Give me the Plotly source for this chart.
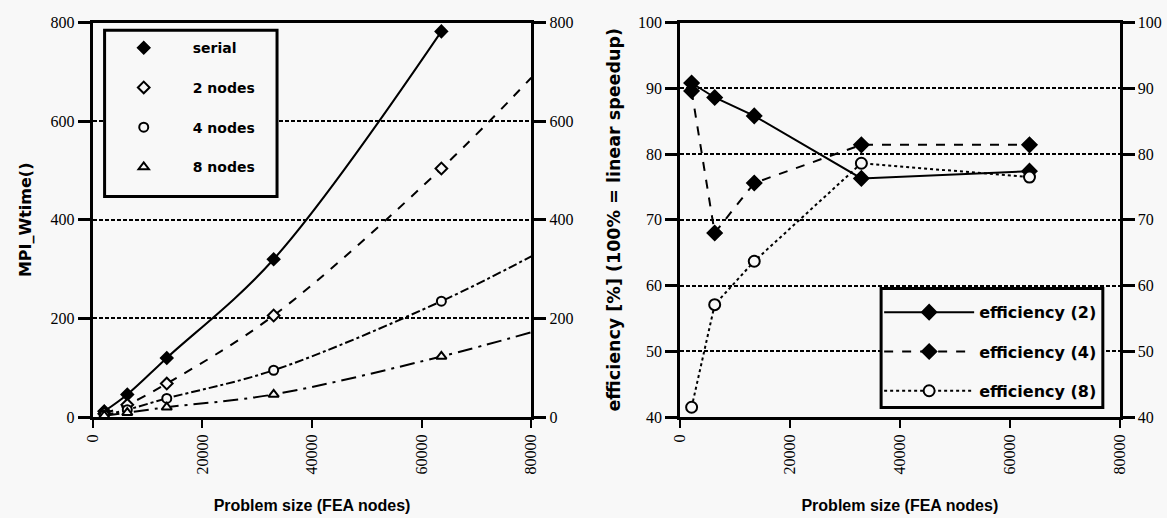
import plotly.graph_objects as go

# ---------------- data ----------------
problem_size = [2100, 6300, 13500, 33000, 63600]
t_serial = [12, 46, 120, 320, 782]
t_2nodes = [7, 25, 68, 206, 504]
t_4nodes = [4, 15, 38, 95, 235]
t_8nodes = [3, 9, 20, 46, 123]
fit_end_x = 80000
fit_end_2 = 688
fit_end_4 = 326
fit_end_8 = 172

eff_2 = [90.8, 88.6, 85.8, 76.3, 77.4]
eff_4 = [89.6, 68.0, 75.6, 81.4, 81.4]
eff_8 = [41.5, 57.1, 63.7, 78.6, 76.5]

x_ticks = [0, 20000, 40000, 60000, 80000]
left_y_ticks = [0, 200, 400, 600, 800]
right_y_ticks = [40, 50, 60, 70, 80, 90, 100]

W, H = 1167, 518
BG = "#f8f8f8"
SERIF = "Liberation Serif"
SANS = "Liberation Sans"
WIDE = "DejaVu Sans"

fig = go.Figure()

# ---------- left plot: fitted curves (lines only) ----------
curve_specs = [
    (problem_size, t_serial, "solid"),
    (problem_size + [fit_end_x], t_2nodes + [fit_end_2], "dash"),
    (problem_size + [fit_end_x], t_4nodes + [fit_end_4], "dashdot"),
    (problem_size + [fit_end_x], t_8nodes + [fit_end_8], "longdashdot"),
]
for xs, ys, dash in curve_specs:
    fig.add_trace(go.Scatter(x=xs, y=ys, mode="lines",
                             line=dict(color="black", width=2, dash=dash, shape="spline", smoothing=1.0),
                             showlegend=False, hoverinfo="skip", xaxis="x", yaxis="y"))

marker_specs = [
    ("serial", t_serial, "diamond", "black"),
    ("2 nodes", t_2nodes, "diamond", BG),
    ("4 nodes", t_4nodes, "circle", BG),
    ("8 nodes", t_8nodes, "triangle-up", BG),
]
for name, ys, sym, fill in marker_specs:
    fig.add_trace(go.Scatter(x=problem_size, y=ys, mode="markers", name=name,
                             marker=dict(symbol=sym, size=9, color=fill,
                                         line=dict(color="black", width=2)),
                             legendgroup=name, legend="legend",
                             xaxis="x", yaxis="y"))

# invisible trace so the mirrored right-hand axis of the left plot is drawn
fig.add_trace(go.Scatter(x=problem_size, y=t_serial, mode="lines", opacity=0,
                         line=dict(width=0), showlegend=False, hoverinfo="skip",
                         xaxis="x", yaxis="y2"))

# ---------- right plot ----------
eff_specs = [
    ("efficiency (2)", eff_2, "solid", "diamond", "black"),
    ("efficiency (4)", eff_4, "dash", "diamond", "black"),
    ("efficiency (8)", eff_8, "dot", "circle", BG),
]
for name, ys, dash, sym, fill in eff_specs:
    fig.add_trace(go.Scatter(x=problem_size, y=ys, mode="lines+markers", name=name,
                             line=dict(color="black", width=2, dash=dash),
                             marker=dict(symbol=sym, size=11, color=fill,
                                         line=dict(color="black", width=2)),
                             legendgroup=name, legend="legend2",
                             xaxis="x2", yaxis="y3"))

fig.add_trace(go.Scatter(x=problem_size, y=eff_2, mode="lines", opacity=0,
                         line=dict(width=0), showlegend=False, hoverinfo="skip",
                         xaxis="x2", yaxis="y4"))

tickfont = dict(family=SERIF, size=16, color="black")

xdomL = [85 / W, 530 / W]
xdomR = [681 / W, 1127 / W]
ydom = [1 - 423 / H, 1 - 15 / H]


def xaxis(domain, anchor):
    return dict(domain=domain, anchor=anchor, range=[0, 80000], tickvals=x_ticks,
                ticktext=[str(v) for v in x_ticks], tickangle=-90, ticks="outside",
                ticklen=8, tickwidth=2, tickcolor="black", showline=True, linewidth=3,
                linecolor="black", mirror=True, showgrid=False, zeroline=False,
                tickfont=tickfont,
                title=dict(text="Problem size (FEA nodes)",
                           font=dict(family=SANS, size=16, color="black", weight="bold"),
                           standoff=27))


def yaxis(domain, anchor, rng, ticks, title=None, tfont=None, standoff=10,
          side="left", overlay=None):
    d = dict(domain=domain, anchor=anchor, range=rng, tickvals=ticks, side=side,
             ticks="outside", ticklen=12, tickwidth=3, tickcolor="black",
             showline=True, linewidth=3, linecolor="black", zeroline=False,
             tickfont=tickfont)
    if overlay is None:
        d.update(showgrid=True, gridcolor="black", gridwidth=1.8, griddash="4px,2px")
        d["title"] = dict(text=title, font=tfont, standoff=standoff)
    else:
        d.update(overlaying=overlay, showgrid=False)
    return d


fig.update_layout(
    width=W, height=H, margin=dict(l=0, r=0, t=0, b=0),
    paper_bgcolor=BG, plot_bgcolor=BG,
    xaxis=xaxis(xdomL, "y"),
    yaxis=yaxis(ydom, "x", [0, 800], left_y_ticks, title="MPI_Wtime()",
                tfont=dict(family=WIDE, size=16, color="black", weight="bold"), standoff=15),
    yaxis2=yaxis(ydom, "x", [0, 800], left_y_ticks, side="right", overlay="y"),
    xaxis2=xaxis(xdomR, "y3"),
    yaxis3=yaxis(ydom, "x2", [40, 100], right_y_ticks,
                 title="efficiency [%] (100% = linear speedup)",
                 tfont=dict(family=WIDE, size=17.5, color="black", weight="bold"), standoff=13),
    yaxis4=yaxis(ydom, "x2", [40, 100], right_y_ticks, side="right", overlay="y3"),
    legend=dict(x=87 / W, y=1 - 25 / H, xanchor="left", yanchor="top",
                bgcolor="rgba(0,0,0,0)", borderwidth=0, itemwidth=88,
                tracegroupgap=18.5, font=dict(family=WIDE, size=14, color="black", weight="bold")),
    legend2=dict(x=883 / W, y=1 - 297 / H, xanchor="left", yanchor="top",
                 bgcolor="rgba(0,0,0,0)", borderwidth=0, itemwidth=90,
                 tracegroupgap=15.5, font=dict(family=WIDE, size=16, color="black", weight="bold")),
    shapes=[
        dict(type="rect", xref="paper", yref="paper", x0=97 / W, x1=272 / W,
             y0=1 - 195 / H, y1=1 - 23 / H, line=dict(color="black", width=3),
             fillcolor=BG, layer="above"),
        dict(type="rect", xref="paper", yref="paper", x0=885 / W, x1=1110 / W,
             y0=1 - 413 / H, y1=1 - 290 / H, line=dict(color="black", width=3),
             fillcolor=BG, layer="above"),
    ],
    showlegend=True,
)

fig.write_html("out.html")
